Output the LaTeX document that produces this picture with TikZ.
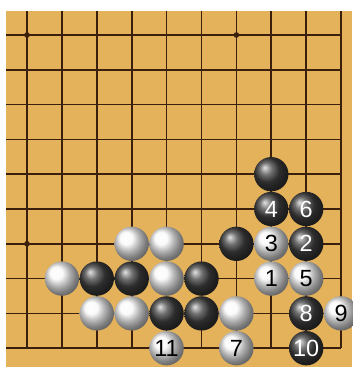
\documentclass[tikz,border=0pt]{standalone}
\usepackage{fontspec}
\newfontfamily\stonefont{Liberation Sans}
\definecolor{boardtan}{RGB}{229,178,92}
\definecolor{gridbrown}{RGB}{58,32,12}

\begin{document}
\begin{tikzpicture}[
    x=0.03cm, y=-0.03cm,
    gridline/.style={draw=gridbrown, line width=1.4pt},
    hoshi/.style={circle, fill=gridbrown, inner sep=0pt, minimum size=0.17cm},
    stone/.style={circle, inner sep=0pt, minimum size=1.03cm,
                  font=\stonefont\fontsize{20}{20}\selectfont},
    black stone/.style={stone, ball color=black!75, text=white},
    white stone/.style={stone, ball color=white!95!gray, text=black}
  ]
  \useasboundingbox (0,0) rectangle (352,367);

  % Board
  \fill[boardtan] (6,11) rectangle (352,367);

  % Grid: columns 0..9, rows 0..9 (col 9 and row 9 are the edges)
  \foreach \i in {0,...,9} {
    \draw[gridline] ({27+34.9*\i},11) -- ({27+34.9*\i},{35+34.8*9});
    \draw[gridline] (6,{35+34.8*\i}) -- ({27+34.9*9},{35+34.8*\i});
  }

  % Star points
  \node[hoshi] (hoshiA) at (27,35) {};
  \node[hoshi] (hoshiB) at ({27+34.9*6},35) {};
  \node[hoshi] (hoshiC) at (27,{35+34.8*6}) {};

  % Black stones: col/row/number
  \foreach \c/\r/\n in {7/4/, 7/5/4, 8/5/6, 6/6/, 8/6/2,
                        2/7/, 3/7/, 5/7/, 4/8/, 5/8/, 8/8/8, 8/9/10}
    \node[black stone] (B\c\r) at ({27+34.9*\c},{35+34.8*\r}) {\n};

  % White stones: col/row/number
  \foreach \c/\r/\n in {3/6/, 4/6/, 7/6/3, 1/7/, 4/7/, 7/7/1, 8/7/5,
                        2/8/, 3/8/, 6/8/, 9/8/9, 4/9/11, 6/9/7}
    \node[white stone] (W\c\r) at ({27+34.9*\c},{35+34.8*\r}) {\n};
\end{tikzpicture}
\end{document}
